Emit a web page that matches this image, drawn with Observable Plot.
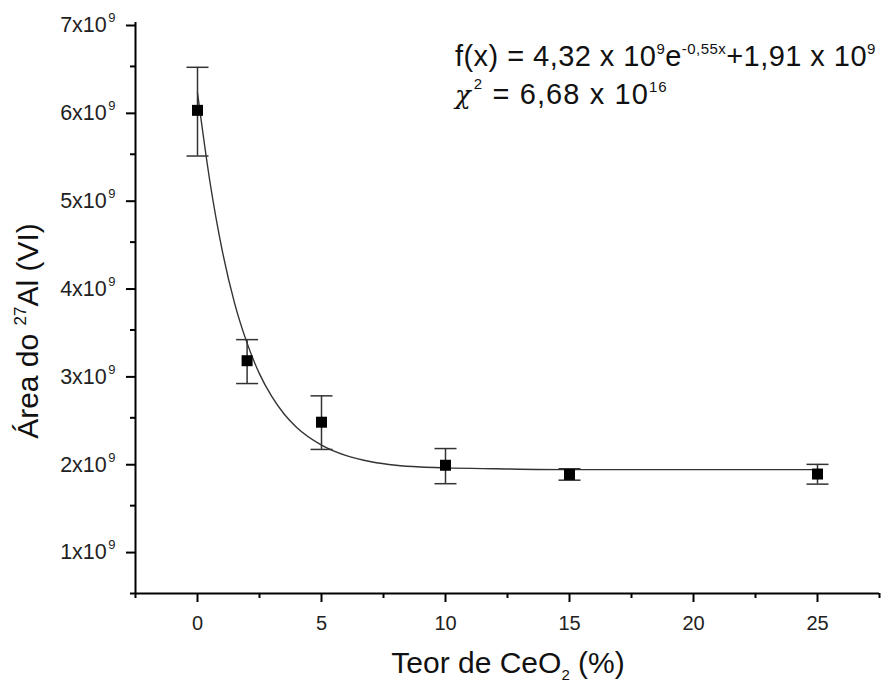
<!DOCTYPE html>
<html><head><meta charset="utf-8">
<script src="https://cdn.jsdelivr.net/npm/d3@7"></script>
<script src="https://cdn.jsdelivr.net/npm/@observablehq/plot@0.6"></script>
<style>html,body{margin:0;padding:0;background:#fff;overflow:hidden}</style>
</head><body><div id="chart"></div>
<script>
// Measured points (Teor de CeO2 %, area) with error bar limits
const teor   = [0, 2, 5, 10, 15, 25];
const area   = [6.0e9, 3.15e9, 2.45e9, 1.96e9, 1.855e9, 1.86e9];
const areaHi = [6.49e9, 3.39e9, 2.75e9, 2.15e9, 1.92e9, 1.97e9];
const areaLo = [5.48e9, 2.89e9, 2.14e9, 1.75e9, 1.79e9, 1.745e9];

// Fitted curve, points
const fitX = [0, 0.5, 1, 1.5, 2, 2.5, 3, 3.5, 4, 5, 6, 7, 8, 9, 10, 12, 15, 20, 25];
const fitY = [6.2e9, 5.19e9, 4.40e9, 3.80e9, 3.35e9, 3.00e9, 2.74e9, 2.54e9, 2.39e9, 2.19e9,
              2.07e9, 2.00e9, 1.96e9, 1.94e9, 1.93e9, 1.92e9, 1.91e9, 1.91e9, 1.91e9];

// Axis ticks
const xTicks = [0, 5, 10, 15, 20, 25];
const xMinor = [-2.5, 2.5, 7.5, 12.5, 17.5, 22.5, 27.5];
const yTicks = [1e9, 2e9, 3e9, 4e9, 5e9, 6e9, 7e9];
const yTickLabels = ["1x10⁹", "2x10⁹", "3x10⁹", "4x10⁹", "5x10⁹", "6x10⁹", "7x10⁹"];
const yMinor = [0.5e9, 1.5e9, 2.5e9, 3.5e9, 4.5e9, 5.5e9, 6.5e9];

const points = teor.map((x, i) => ({x, y: area[i], hi: areaHi[i], lo: areaLo[i]}));
const fit = fitX.map((x, i) => ({x, y: fitY[i]}));

const capSymbol = {
  draw(ctx, size) {
    const w = Math.sqrt(size / Math.PI);
    ctx.moveTo(-w, 0);
    ctx.lineTo(w, 0);
  }
};

const FONT = "'Liberation Sans', Arial, Helvetica, sans-serif";

const svg = Plot.plot({
  width: 885,
  height: 684,
  marginLeft: 135,
  marginRight: 6,
  marginTop: 22,
  marginBottom: 91,
  style: {fontFamily: FONT, fontSize: "20px", color: "black", background: "white"},
  x: {domain: [-2.5, 27.5]},
  y: {domain: [0.5e9, 7e9]},
  marks: [
    Plot.line(fit, {x: "x", y: "y", stroke: "#333", strokeWidth: 1.4, curve: "monotone-x"}),
    Plot.ruleX(points, {x: "x", y1: "lo", y2: "hi", stroke: "#333", strokeWidth: 1.5}),
    Plot.dot(points, {x: "x", y: "hi", symbol: capSymbol, r: 11, fill: "none", stroke: "#333", strokeWidth: 1.5}),
    Plot.dot(points, {x: "x", y: "lo", symbol: capSymbol, r: 11, fill: "none", stroke: "#333", strokeWidth: 1.5}),
    Plot.dot(points, {x: "x", y: "y", symbol: "square", r: 6.2, fill: "black", stroke: "none"}),
    Plot.ruleY([0.5e9], {stroke: "black", strokeWidth: 2}),
    Plot.ruleX([-2.5], {stroke: "black", strokeWidth: 2}),
    Plot.axisX(xTicks, {tickSize: 9, tickPadding: 13, strokeWidth: 2, color: "black", fill: "#222", fontSize: 20, label: null}),
    Plot.axisX(xMinor, {tickSize: 5, strokeWidth: 2, color: "black", tickFormat: () => "", label: null}),
    Plot.axisY(yTicks, {tickSize: 9, tickPadding: 11, strokeWidth: 2, color: "black", fill: "#222", fontSize: 21.5, dy: 3,
      tickFormat: d => yTickLabels[yTicks.indexOf(d)], label: null}),
    Plot.axisY(yMinor, {tickSize: 5, strokeWidth: 2, color: "black", tickFormat: () => "", label: null})
  ]
});

document.getElementById("chart").appendChild(svg);

const s = d3.select(svg);

// Render the exponent of the y tick labels as a raised superscript
s.selectAll('g[aria-label="y-axis tick label"] text').each(function() {
  const t = d3.select(this);
  const str = t.text();
  const m = str.match(/^(.*x10)(⁹)$/);
  if (!m) return;
  t.text(m[1]);
  t.append("tspan").attr("dx", 1.5).attr("dy", -10).attr("font-size", 13).text("9");
});

// Y axis label
const yl = s.append("text")
  .attr("transform", "translate(38,331) rotate(-90)")
  .attr("text-anchor", "middle")
  .attr("font-family", FONT).attr("font-size", 30).attr("fill", "#111");
yl.append("tspan").text("Área do ");
yl.append("tspan").attr("dy", -12).attr("font-size", 17).text("27");
yl.append("tspan").attr("dy", 12).text("Al (VI)");

// X axis label
const xl = s.append("text")
  .attr("x", 508).attr("y", 673)
  .attr("text-anchor", "middle")
  .attr("font-family", FONT).attr("font-size", 30).attr("fill", "#111");
xl.append("tspan").text("Teor de CeO");
xl.append("tspan").attr("dy", 7).attr("font-size", 15).text("2");
xl.append("tspan").attr("dy", -7).text(" (%)");

// Fit annotation
const f1 = s.append("text")
  .attr("x", 455).attr("y", 66)
  .attr("text-anchor", "start")
  .attr("letter-spacing", 0.45)
  .attr("font-family", FONT).attr("font-size", 29).attr("fill", "#111");
f1.append("tspan").text("f(x) = 4,32 x 10");
f1.append("tspan").attr("dy", -12).attr("font-size", 15).text("9");
f1.append("tspan").attr("dy", 12).text("e");
f1.append("tspan").attr("dy", -12).attr("font-size", 15).text("-0,55x");
f1.append("tspan").attr("dy", 12).text("+1,91 x 10");
f1.append("tspan").attr("dy", -12).attr("font-size", 15).text("9");

const f2 = s.append("text")
  .attr("x", 455).attr("y", 104)
  .attr("text-anchor", "start")
  .attr("letter-spacing", 1.1)
  .attr("font-family", FONT).attr("font-size", 29).attr("fill", "#111");
f2.append("tspan").attr("font-family", "'DejaVu Serif', serif").attr("font-style", "italic").attr("font-size", 26).text("χ");
f2.append("tspan").attr("dx", 2).attr("dy", -15).attr("font-size", 15).text("2");
f2.append("tspan").attr("dy", 15).text(" = 6,68 x 10");
f2.append("tspan").attr("dy", -12).attr("font-size", 15).text("16");
</script>
</body></html>
